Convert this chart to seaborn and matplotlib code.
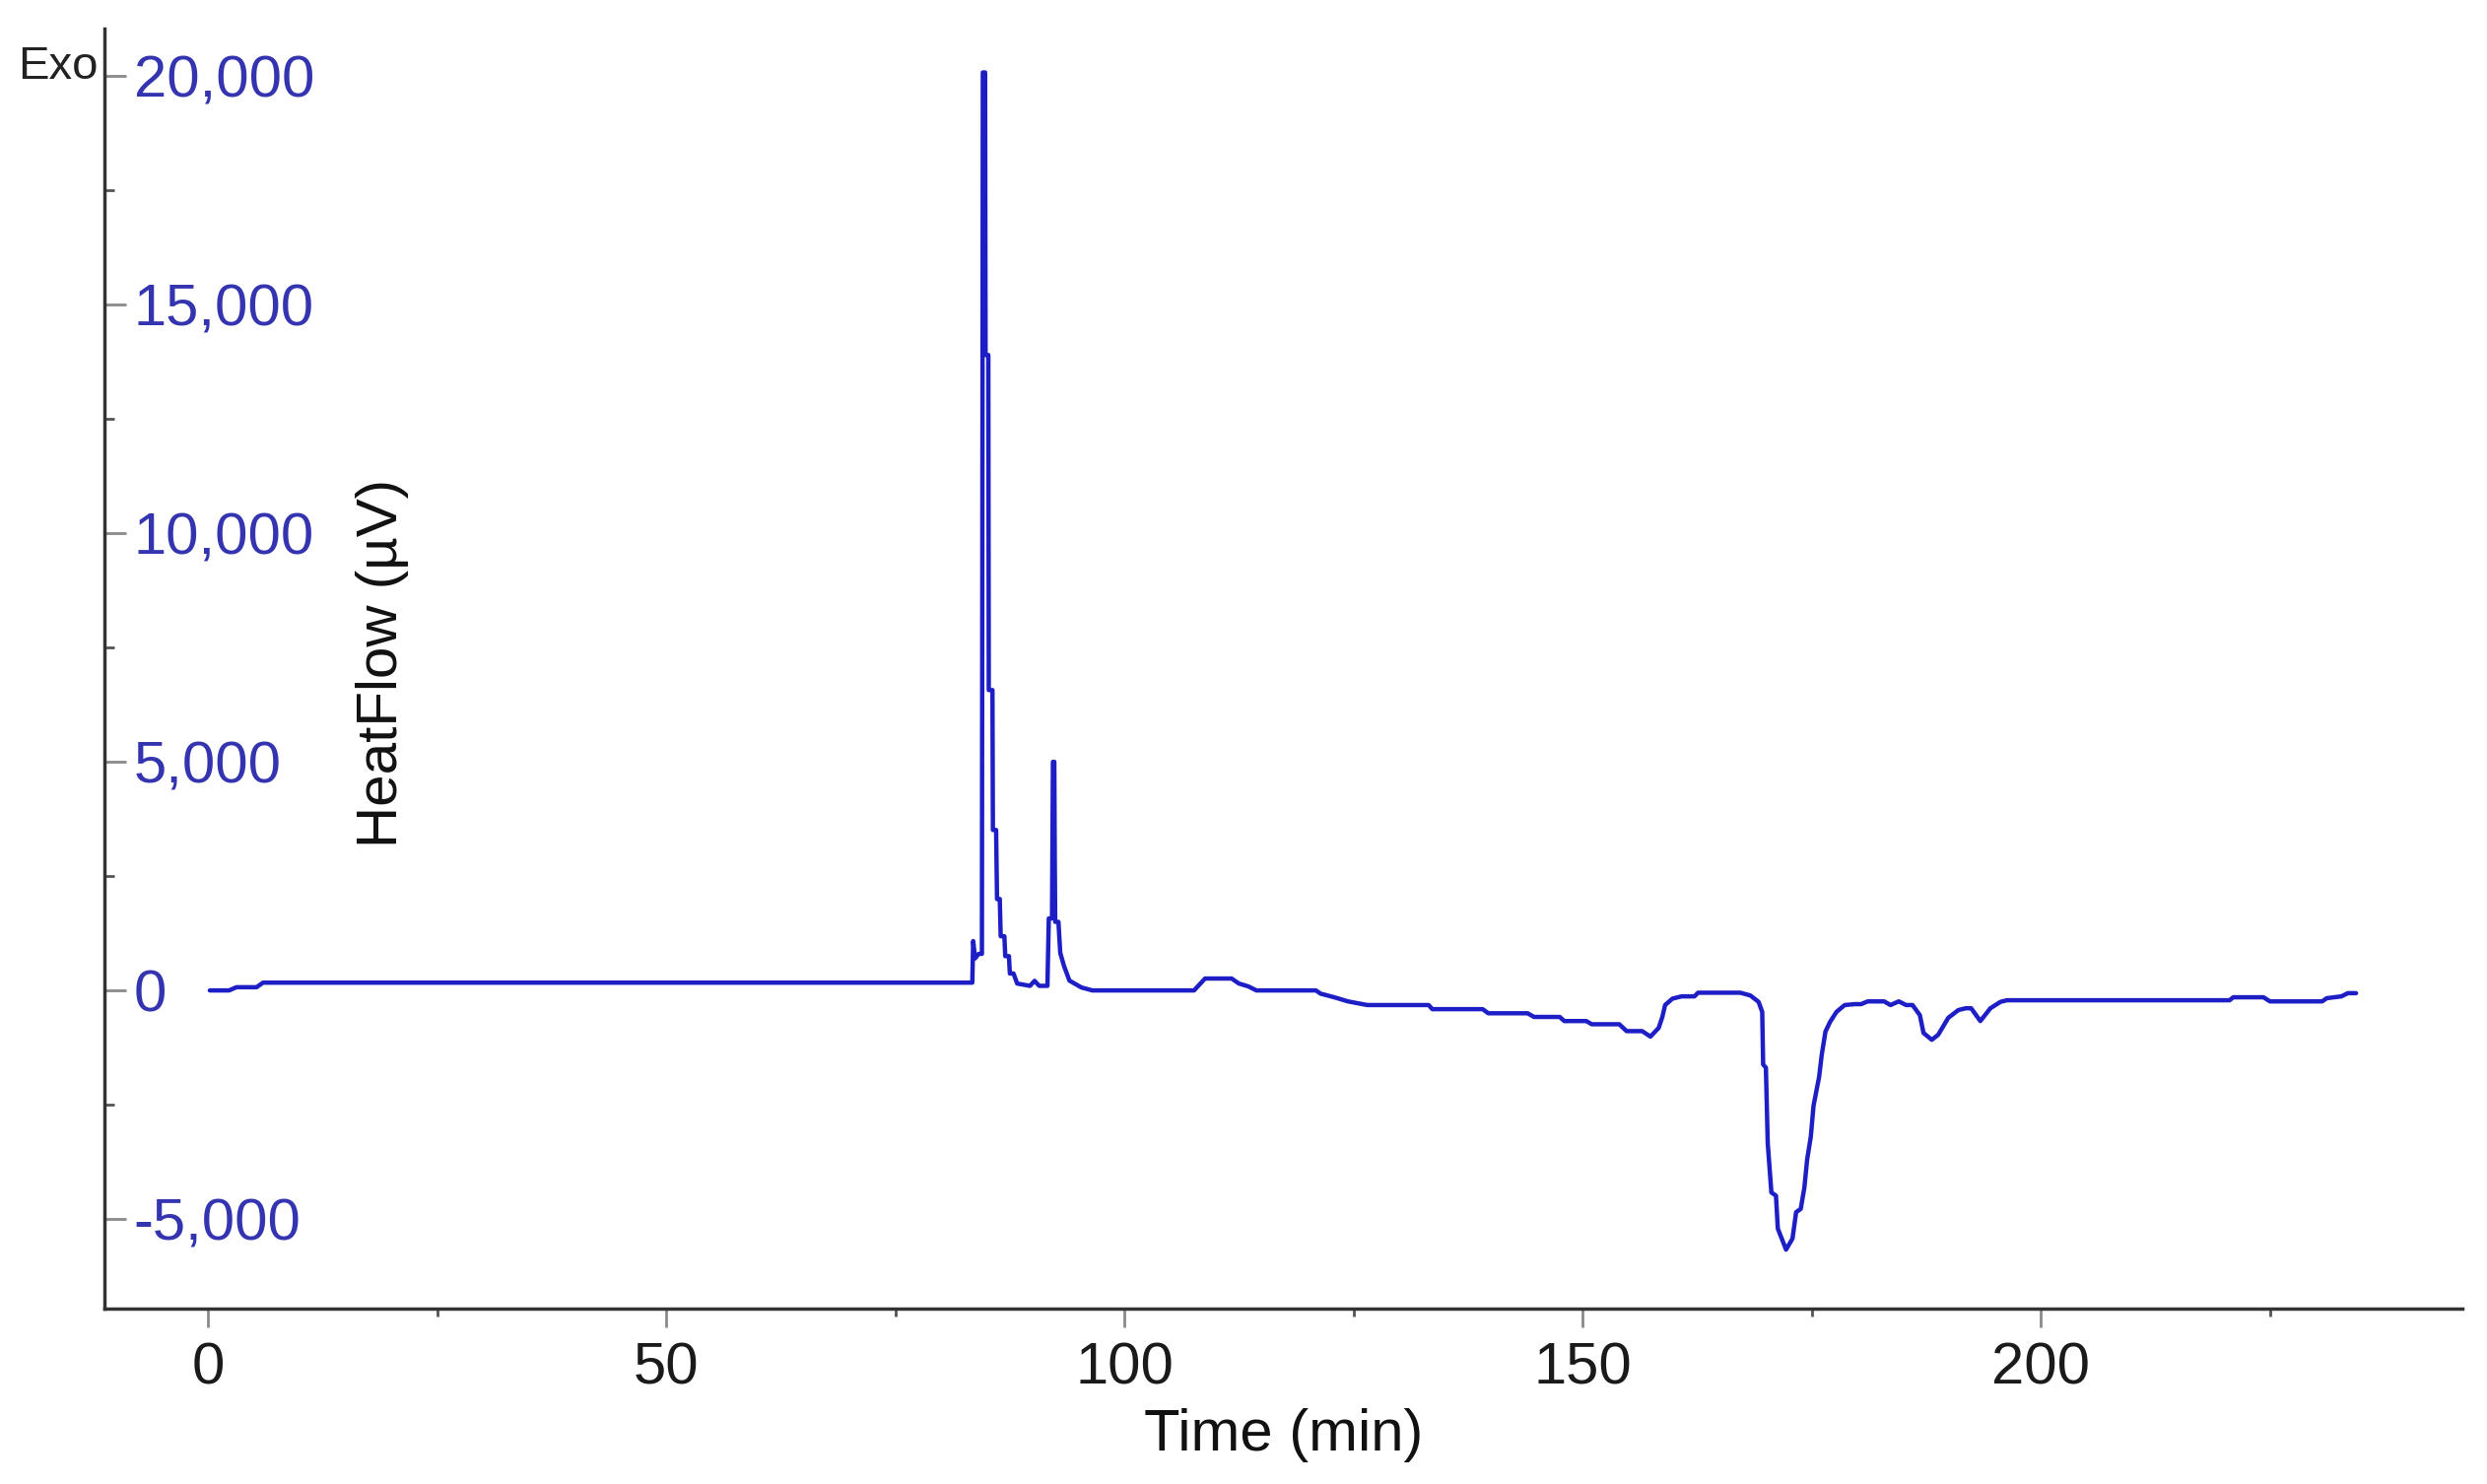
import matplotlib
matplotlib.use('Agg')
from matplotlib import pyplot as plt
import matplotlib.ticker as mtick
import pandas as pd
import seaborn as sns

# Curva DSC: tiempo (min) y flujo de calor (µV)
time_min = [0.2, 2.3, 3.1, 5.3, 6.0, 83.4, 83.5, 83.7, 84.1, 84.45, 84.55, 84.8, 84.85, 85.15,
            85.2, 85.6, 85.65, 86.0, 86.1, 86.4, 86.5, 86.9, 87.0, 87.4, 87.5, 87.9, 88.3,
            89.7, 90.2, 90.7, 91.6, 91.75, 92.1, 92.2, 92.35, 92.4, 92.45, 92.8, 93.0, 93.4,
            94.0, 95.3, 96.5, 107.6, 108.8, 111.7, 112.5, 113.5, 114.4, 120.9, 121.4, 122.9,
            124.4, 126.5, 133.2, 133.6, 139.1, 139.7, 144.0, 144.7, 147.5, 148.0, 150.4,
            151.0, 154.0, 154.8, 156.5, 157.4, 158.3, 158.7, 159.0, 159.8, 160.8, 162.2,
            162.6, 167.2, 168.3, 169.2, 169.6, 169.7, 170.0, 170.2, 170.6, 171.1, 171.3,
            172.2, 172.9, 173.3, 173.8, 174.2, 174.5, 174.9, 175.2, 175.8, 176.1, 176.5,
            177.0, 177.7, 178.6, 179.7, 180.4, 181.1, 182.9, 183.6, 184.5, 185.3, 186.0,
            186.8, 187.2, 188.1, 188.8, 189.9, 191.0, 191.8, 192.4, 193.4, 194.5, 195.6,
            196.3, 220.6, 221.0, 224.3, 225.0, 230.7, 231.2, 232.8, 233.5, 234.4]
heat_flow = [0, 0, 70, 70, 170, 170, 1080, 700, 800, 800, 20080, 20080, 13900, 13900,
             6570, 6570, 3510, 3510, 2000, 2000, 1185, 1185, 750, 750, 370, 370, 150,
             100, 210, 100, 100, 1575, 1575, 5000, 5000, 2900, 1500, 1500, 820, 540,
             215, 65, 0, 0, 260, 260, 150, 90, 0, 0, -70, -150,
             -240, -320, -320, -410, -410, -500, -500, -580, -580, -670, -670,
             -740, -740, -890, -890, -1010, -820, -580, -320, -180, -130, -130,
             -50, -50, -110, -250, -470, -1620, -1690, -3340, -4420, -4490, -5210,
             -5670, -5430, -4850, -4780, -4310, -3700, -3200, -2520, -1900, -1400, -900,
             -690, -470, -320, -300, -300, -240, -240, -320, -240, -320, -320,
             -540, -930, -1080, -970, -600, -430, -390, -390, -670, -390, -250,
             -215, -215, -150, -150, -240, -240, -170, -130, -60, -60]

x_ticks = [0, 50, 100, 150, 200]
y_ticks = [-5000, 0, 5000, 10000, 15000, 20000]

df = pd.DataFrame({'time': time_min, 'heatflow': heat_flow})

W, H = 2524, 1506
sns.set_theme(style='ticks')
plt.rcParams['font.family'] = ['Liberation Sans', 'DejaVu Sans']
plt.rcParams['axes.unicode_minus'] = False

fig = plt.figure(figsize=(W / 100, H / 100), dpi=100)
ax = fig.add_axes([106 / W, 1 - 1328 / H, (2499 - 106) / W, (1328 - 29) / H])

sns.lineplot(data=df, x='time', y='heatflow', sort=False, estimator=None,
             color='#1e1ec6', linewidth=3.2, ax=ax)

ax.set_xlim(-11.3, 246)
ax.set_ylim(-6960, 21040)
ax.set_xticks(x_ticks)
ax.set_yticks(y_ticks)
ax.xaxis.set_minor_locator(mtick.MultipleLocator(25))
ax.yaxis.set_minor_locator(mtick.MultipleLocator(2500))
ax.yaxis.set_major_formatter(mtick.StrMethodFormatter('{x:,.0f}'))

for s in ['top', 'right']:
    ax.spines[s].set_visible(False)
for s in ['left', 'bottom']:
    ax.spines[s].set_color('#333333')
    ax.spines[s].set_linewidth(2.5)

ax.tick_params(axis='y', which='major', direction='in', length=16, width=2,
               color='#8a8a8a', pad=-21.5, labelsize=43, labelcolor='#3434b0')
ax.tick_params(axis='y', which='minor', direction='in', length=7, width=2, color='#555555')
for lab in ax.get_yticklabels():
    lab.set_horizontalalignment('left')
ax.tick_params(axis='x', which='major', direction='out', length=14, width=2,
               color='#8a8a8a', pad=10, labelsize=43, labelcolor='#1a1a1a')
ax.tick_params(axis='x', which='minor', direction='out', length=6, width=2, color='#555555')

ax.set_xlabel('')
ax.set_ylabel('')
ax.text(0.5, -0.078, 'Time (min)', transform=ax.transAxes, ha='center', va='top',
        fontsize=43, color='#111111')
ax.text(0.118, 0.504, 'HeatFlow (µV)', transform=ax.transAxes, ha='center', va='center',
        rotation=90, fontsize=42, color='#111111')
fig.text(100 / W, 1 - 80 / H, 'Exo', ha='right', va='baseline', fontsize=34, color='#222222')

plt.savefig('out.png', dpi=100, facecolor='white')
